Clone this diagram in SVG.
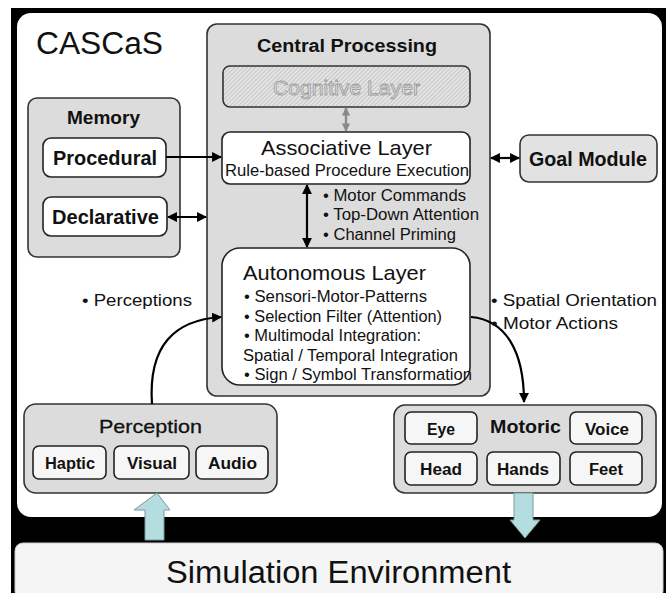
<svg xmlns="http://www.w3.org/2000/svg" width="668" height="593" viewBox="0 0 668 593">
  <style>
    text { font-family: "Liberation Sans", Arial, sans-serif; fill: #111; }
    .box { fill: #dcdcdc; stroke: #333; stroke-width: 1.6; }
    .wbox { fill: #fff; stroke: #222; stroke-width: 1.6; }
    .sub { fill: #f6f6f6; stroke: #222; stroke-width: 1.6; }
    .b { font-weight: bold; }
    .lbl { font-size: 16px; }
    .conn { fill: none; stroke: #000; stroke-width: 2.2; }
    .big { fill: #b4dde0; stroke: #7a9a9c; stroke-width: 1; }
  </style>
  <defs>
    <marker id="ah" viewBox="0 0 10 10" refX="9" refY="5" markerWidth="4.5" markerHeight="4.5" orient="auto-start-reverse">
      <path d="M0,0 L10,5 L0,10 z" fill="#000"/>
    </marker>
    <marker id="ahg" viewBox="0 0 10 10" refX="9" refY="5" markerWidth="3.5" markerHeight="3.5" orient="auto-start-reverse">
      <path d="M0,0 L10,5 L0,10 z" fill="#8a8a8a"/>
    </marker>
    <pattern id="hatch" width="3" height="3" patternUnits="userSpaceOnUse" patternTransform="rotate(45)">
      <rect width="3" height="3" fill="#e4e4e4"/>
      <line x1="0" y1="0" x2="0" y2="3" stroke="#a8a8a8" stroke-width="1"/>
    </pattern>
  </defs>

  <!-- frame -->
  <rect x="0" y="0" width="668" height="593" fill="#fff"/>
  <rect x="11" y="8" width="655" height="585" fill="#000"/>
  <rect x="17" y="13" width="645" height="504" rx="14" fill="#fff"/>
  <text x="36" y="54" font-size="31" textLength="127" lengthAdjust="spacingAndGlyphs">CASCaS</text>

  <!-- environment -->
  <g id="simulation-environment">
    <rect x="15" y="543" width="648" height="56" rx="8" fill="#f5f5f5" stroke="#ccc" stroke-width="1"/>
    <text x="166" y="583" font-size="31" textLength="345" lengthAdjust="spacingAndGlyphs">Simulation Environment</text>
  </g>

  <!-- central processing -->
  <g id="central-processing">
    <rect class="box" x="207" y="24" width="283" height="372" rx="10"/>
    <text x="257" y="52" font-size="18" class="b" textLength="180" lengthAdjust="spacingAndGlyphs">Central Processing</text>
  </g>

  <g id="cognitive-layer">
    <rect x="223" y="66" width="247" height="41" rx="7" fill="url(#hatch)" stroke="#333" stroke-width="1.6"/>
    <text x="273" y="95" font-size="20" textLength="147" lengthAdjust="spacingAndGlyphs" style="fill:#e8e8e8;stroke:#9a9a9a;stroke-width:0.8">Cognitive Layer</text>
  </g>

  <g id="associative-layer">
    <rect class="wbox" x="222" y="132" width="248" height="52" rx="8"/>
    <text x="261" y="155" font-size="21" textLength="171" lengthAdjust="spacingAndGlyphs">Associative Layer</text>
    <text x="225" y="176" font-size="16" textLength="244" lengthAdjust="spacingAndGlyphs">Rule-based Procedure Execution</text>
  </g>

  <g id="autonomous-layer">
    <rect class="wbox" x="222" y="248" width="248" height="137" rx="18"/>
    <text x="243" y="280" font-size="21" textLength="183" lengthAdjust="spacingAndGlyphs">Autonomous Layer</text>
    <text x="244" y="302" class="lbl" textLength="183" lengthAdjust="spacingAndGlyphs">• Sensori-Motor-Patterns</text>
    <text x="244" y="322" class="lbl" textLength="198" lengthAdjust="spacingAndGlyphs">• Selection Filter (Attention)</text>
    <text x="244" y="341" class="lbl" textLength="177" lengthAdjust="spacingAndGlyphs">• Multimodal Integration:</text>
    <text x="243" y="361" class="lbl" textLength="215" lengthAdjust="spacingAndGlyphs">Spatial / Temporal Integration</text>
    <text x="244" y="380" class="lbl" textLength="228" lengthAdjust="spacingAndGlyphs">• Sign / Symbol Transformation</text>
  </g>

  <!-- memory -->
  <g id="memory">
    <rect class="box" x="28" y="98" width="152" height="159" rx="9"/>
    <text x="67" y="124" font-size="19" class="b" textLength="73" lengthAdjust="spacingAndGlyphs">Memory</text>
  </g>
  <g id="procedural">
    <rect class="wbox" x="43" y="138" width="123" height="39" rx="8"/>
    <text x="53" y="165" font-size="20" class="b" textLength="104" lengthAdjust="spacingAndGlyphs">Procedural</text>
  </g>
  <g id="declarative">
    <rect class="wbox" x="43" y="197" width="124" height="39" rx="8"/>
    <text x="52" y="224" font-size="20" class="b" textLength="107" lengthAdjust="spacingAndGlyphs">Declarative</text>
  </g>

  <!-- goal module -->
  <g id="goal-module">
    <rect x="520" y="135" width="137" height="47" rx="9" fill="#e2e2e2" stroke="#333" stroke-width="1.6"/>
    <text x="529" y="166" font-size="20" class="b" textLength="118" lengthAdjust="spacingAndGlyphs">Goal Module</text>
  </g>

  <!-- perception -->
  <g id="perception">
    <rect class="box" x="24" y="404" width="253" height="89" rx="12"/>
    <text x="99" y="433" font-size="19" textLength="103" lengthAdjust="spacingAndGlyphs" style="stroke:#111;stroke-width:0.3">Perception</text>
  </g>
  <g id="haptic">
    <rect class="sub" x="33" y="446" width="73" height="33" rx="6"/>
    <text x="45" y="469" font-size="16" class="b" textLength="50" lengthAdjust="spacingAndGlyphs">Haptic</text>
  </g>
  <g id="visual">
    <rect class="sub" x="114" y="446" width="75" height="33" rx="6"/>
    <text x="127" y="469" font-size="16" class="b" textLength="50" lengthAdjust="spacingAndGlyphs">Visual</text>
  </g>
  <g id="audio">
    <rect class="sub" x="196" y="446" width="72" height="33" rx="6"/>
    <text x="208" y="469" font-size="16" class="b" textLength="49" lengthAdjust="spacingAndGlyphs">Audio</text>
  </g>

  <!-- motoric -->
  <g id="motoric">
    <rect class="box" x="394" y="405" width="262" height="88" rx="11"/>
    <text x="490" y="433" font-size="18" class="b" textLength="71" lengthAdjust="spacingAndGlyphs">Motoric</text>
  </g>
  <g id="eye">
    <rect class="sub" x="405" y="412" width="72" height="32" rx="6"/>
    <text x="427" y="435" font-size="16" class="b" textLength="28" lengthAdjust="spacingAndGlyphs">Eye</text>
  </g>
  <g id="voice">
    <rect class="sub" x="570" y="412" width="72" height="32" rx="6"/>
    <text x="585" y="435" font-size="16" class="b" textLength="44" lengthAdjust="spacingAndGlyphs">Voice</text>
  </g>
  <g id="head">
    <rect class="sub" x="405" y="452" width="72" height="33" rx="6"/>
    <text x="420" y="475" font-size="16" class="b" textLength="42" lengthAdjust="spacingAndGlyphs">Head</text>
  </g>
  <g id="hands">
    <rect class="sub" x="487" y="452" width="73" height="33" rx="6"/>
    <text x="497" y="475" font-size="16" class="b" textLength="52" lengthAdjust="spacingAndGlyphs">Hands</text>
  </g>
  <g id="feet">
    <rect class="sub" x="570" y="452" width="72" height="33" rx="6"/>
    <text x="589" y="475" font-size="16" class="b" textLength="34" lengthAdjust="spacingAndGlyphs">Feet</text>
  </g>

  <!-- connectors -->
  <g id="connectors">
    <line class="conn" x1="166" y1="157" x2="221" y2="157" marker-end="url(#ah)"/>
    <line class="conn" x1="168" y1="217" x2="206" y2="217" marker-start="url(#ah)" marker-end="url(#ah)"/>
    <line class="conn" x1="491" y1="158" x2="519" y2="158" marker-start="url(#ah)" marker-end="url(#ah)"/>
    <line x1="346" y1="108" x2="346" y2="131" stroke="#8a8a8a" stroke-width="2.4" marker-start="url(#ahg)" marker-end="url(#ahg)"/>
    <line class="conn" x1="307" y1="185" x2="307" y2="247" marker-start="url(#ah)" marker-end="url(#ah)"/>
    <path class="conn" d="M152,404 C148,345 175,320 221,317" marker-end="url(#ah)"/>
    <path class="conn" d="M471,317 C505,320 524,350 524,402" marker-end="url(#ah)"/>
    <!-- exchange with the environment -->
    <path class="big" d="M145,540 L145,510 L134,510 L157,493 L170,510 L164,510 L164,540 Z"/>
    <path class="big" d="M514,493 L533,493 L533,520 L540,520 L525,538 L510,520 L514,520 Z"/>
  </g>

  <!-- connector labels -->
  <text x="323" y="201" class="lbl" textLength="143" lengthAdjust="spacingAndGlyphs">• Motor Commands</text>
  <text x="323" y="220" class="lbl" textLength="156" lengthAdjust="spacingAndGlyphs">• Top-Down Attention</text>
  <text x="323" y="240" class="lbl" textLength="133" lengthAdjust="spacingAndGlyphs">• Channel Priming</text>
  <text x="82" y="306" font-size="17" textLength="110" lengthAdjust="spacingAndGlyphs">• Perceptions</text>
  <text x="491" y="306" font-size="17" textLength="166" lengthAdjust="spacingAndGlyphs">• Spatial Orientation</text>
  <text x="491" y="329" font-size="17" textLength="127" lengthAdjust="spacingAndGlyphs">• Motor Actions</text>
</svg>
